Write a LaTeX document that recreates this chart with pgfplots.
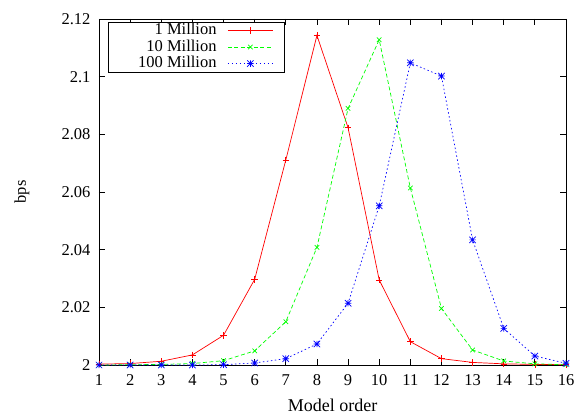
\documentclass[border=0pt]{standalone}
\usepackage{fontspec}
\setmainfont{Liberation Serif}
\usepackage{pgfplots}
\pgfplotsset{compat=1.18}

% gnuplot point type 3: a plus and a cross on top of each other
\pgfdeclareplotmark{plusx}{%
  \pgfpathmoveto{\pgfqpoint{-\pgfplotmarksize}{0pt}}\pgfpathlineto{\pgfqpoint{\pgfplotmarksize}{0pt}}%
  \pgfpathmoveto{\pgfqpoint{0pt}{-\pgfplotmarksize}}\pgfpathlineto{\pgfqpoint{0pt}{\pgfplotmarksize}}%
  \pgfpathmoveto{\pgfqpoint{-\pgfplotmarksize}{-\pgfplotmarksize}}\pgfpathlineto{\pgfqpoint{\pgfplotmarksize}{\pgfplotmarksize}}%
  \pgfpathmoveto{\pgfqpoint{-\pgfplotmarksize}{\pgfplotmarksize}}\pgfpathlineto{\pgfqpoint{\pgfplotmarksize}{-\pgfplotmarksize}}%
  \pgfusepathqstroke}

\newcommand{\gfont}{\fontsize{16.5}{19}\selectfont}

\begin{document}
\begin{tikzpicture}
\begin{axis}[
    name=ax,
    scale only axis,
    width=467pt, height=346pt,
    xmin=1, xmax=16,
    ymin=2, ymax=2.12,
    xtick={1,...,16},
    ytick={2,2.02,2.04,2.06,2.08,2.1,2.12},
    yticklabels={2,2.02,2.04,2.06,2.08,2.1,2.12},
    /pgf/number format/assume math mode=true,
    tick align=inside,
    major tick length=6pt,
    axis line style={line width=0.8pt},
    every tick/.style={black, line width=0.8pt},
    tick label style={font=\gfont},
    xticklabel style={yshift=-6pt},
    yticklabel style={xshift=-5pt},
    xlabel={Model order},
    ylabel={bps},
    every axis x label/.style={at={(axis description cs:0.5,-0.117)}, anchor=center,
      font=\fontsize{18}{21}\selectfont},
    every axis y label/.style={at={(axis description cs:-0.165,0.5)}, anchor=center, rotate=90, font=\gfont},
    clip=false,
    legend cell align=right,
    legend plot pos=right,
    legend style={at={(0.019,0.992)}, anchor=north west, draw=black, line width=0.6pt,
      font=\gfont, row sep=1.5pt, inner xsep=4pt, inner ysep=1pt,
      nodes={inner ysep=0pt, text height=11.5pt, text depth=3.5pt},
      /tikz/every odd column/.append style={column sep=9pt}},
    legend image code/.code={%
      \draw[mark repeat=2, mark phase=2, #1] plot coordinates {(0pt,0pt) (22.5pt,0pt) (45pt,0pt)};
      \path (52pt,0pt);},
    mark size=3.2pt,
]
\addplot[red, line width=0.7pt, mark=+, mark options={solid}] coordinates {
  (1,2.0003) (2,2.0005) (3,2.0013) (4,2.0035) (5,2.0103) (6,2.0297)
  (7,2.0711) (8,2.1143) (9,2.0823) (10,2.0295) (11,2.0081) (12,2.0022)
  (13,2.0009) (14,2.0004) (15,2.0002) (16,2.0001)};
\addlegendentry{1 Million}
\addplot[green, line width=0.7pt, dash pattern=on 4pt off 2.5pt, mark=x, mark options={solid}] coordinates {
  (1,2.0000) (2,2.0001) (3,2.0002) (4,2.0005) (5,2.0015) (6,2.0049)
  (7,2.0150) (8,2.0408) (9,2.0890) (10,2.1128) (11,2.0614) (12,2.0196)
  (13,2.0052) (14,2.0014) (15,2.0004) (16,2.0001)};
\addlegendentry{10 Million}
\addplot[blue, line width=0.7pt, dash pattern=on 1.5pt off 2.5pt, mark=plusx, mark options={solid}] coordinates {
  (1,2.0000) (2,2.0000) (3,2.0000) (4,2.0000) (5,2.0001) (6,2.0007)
  (7,2.0022) (8,2.0073) (9,2.0214) (10,2.0552) (11,2.1048) (12,2.1002)
  (13,2.0434) (14,2.0127) (15,2.0031) (16,2.0006)};
\addlegendentry{\hspace*{24pt}100 Million}
\end{axis}
\pgfresetboundingbox
\path[use as bounding box] ([shift={(-99pt,-50pt)}]ax.south west) rectangle ([shift={(14pt,19pt)}]ax.north east);
\end{tikzpicture}
\end{document}
